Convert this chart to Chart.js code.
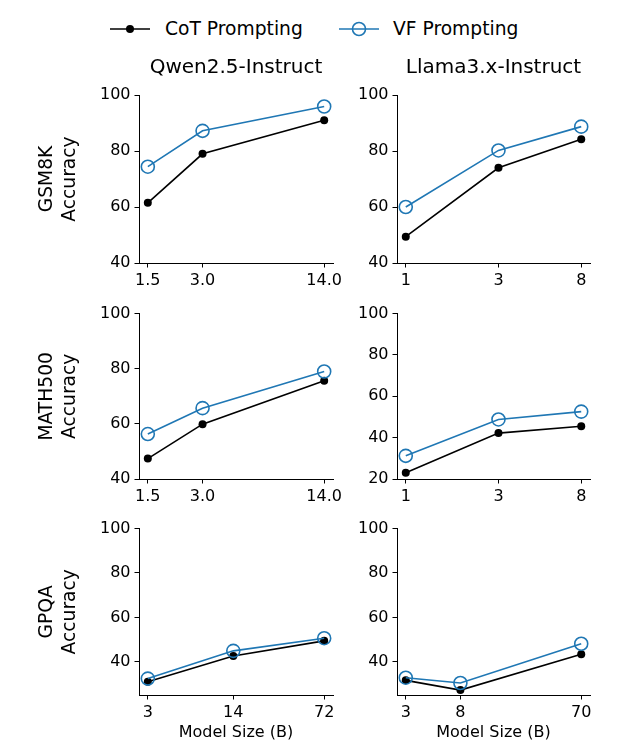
<!DOCTYPE html>
<html>
<head>
<meta charset="utf-8">
<script src="https://cdn.jsdelivr.net/npm/chart.js@4.4.1/dist/chart.umd.min.js"></script>
<style>
  body { margin: 0; background: #fff; }
  #wrap { position: relative; width: 634px; height: 755px; font-family: "DejaVu Sans", sans-serif; }
  canvas { position: absolute; }
  .legend-item { position: absolute; top: 17px; height: 24px; line-height: 24px; font-size: 18.7px; color: #000; white-space: nowrap; }
  .legend-icon { position: absolute; }
</style>
</head>
<body>
<div id="wrap">
  <svg class="legend-icon" style="left:110px; top:19px" width="40" height="20">
    <line x1="0" y1="10" x2="40" y2="10" stroke="#000" stroke-width="1.6"/>
    <circle cx="20" cy="10" r="4" fill="#000"/>
  </svg>
  <div class="legend-item" style="left:165px">CoT Prompting</div>
  <svg class="legend-icon" style="left:339px; top:19px" width="40" height="20">
    <line x1="0" y1="10" x2="40" y2="10" stroke="#1f77b4" stroke-width="1.6"/>
    <circle cx="20" cy="10" r="6.5" fill="none" stroke="#1f77b4" stroke-width="1.6"/>
  </svg>
  <div class="legend-item" style="left:393px">VF Prompting</div>

  <canvas id="c00" width="360" height="255" style="left:0px; top:40px"></canvas>
  <canvas id="c01" width="294" height="255" style="left:340px; top:40px"></canvas>
  <canvas id="c10" width="360" height="210" style="left:0px; top:300px"></canvas>
  <canvas id="c11" width="294" height="210" style="left:340px; top:300px"></canvas>
  <canvas id="c20" width="360" height="240" style="left:0px; top:515px"></canvas>
  <canvas id="c21" width="294" height="240" style="left:340px; top:515px"></canvas>
</div>

<script>
// Model sizes (billions of parameters) per panel
const qwenSizes = [1.5, 3, 14];
const qwenSizesGpqa = [3, 14, 72];
const llamaSizes = [1, 3, 8];
const llamaSizesGpqa = [3, 8, 70];

// Tick labels for the x axes
const qwenTickLabels = ["1.5", "3.0", "14.0"];
const qwenGpqaTickLabels = ["3", "14", "72"];
const llamaTickLabels = ["1", "3", "8"];
const llamaGpqaTickLabels = ["3", "8", "70"];

// Accuracy values
const gsm8kQwenCot = [61.5, 79.0, 91.0];
const gsm8kQwenVf = [74.4, 87.2, 95.9];
const gsm8kLlamaCot = [49.4, 74.0, 84.2];
const gsm8kLlamaVf = [60.0, 80.2, 88.7];

const math500QwenCot = [47.4, 59.9, 75.6];
const math500QwenVf = [56.3, 65.7, 79.0];
const math500LlamaCot = [23.0, 42.2, 45.5];
const math500LlamaVf = [31.2, 48.8, 52.6];

const gpqaQwenCot = [31.0, 42.6, 49.4];
const gpqaQwenVf = [32.4, 44.9, 50.6];
const gpqaLlamaCot = [31.6, 27.2, 43.4];
const gpqaLlamaVf = [32.8, 30.4, 48.1];

// Y axis limits and ticks
const yLimitsDefault = [40, 100];
const yLimitsMathLlama = [20, 100];
const yLimitsGpqa = [25, 100];
const yTicksDefault = [40, 60, 80, 100];
const yTicksMathLlama = [20, 40, 60, 80, 100];

const columnTitles = ["Qwen2.5-Instruct", "Llama3.x-Instruct"];
const rowTitles = [["GSM8K", "Accuracy"], ["MATH500", "Accuracy"], ["GPQA", "Accuracy"]];
const xAxisTitle = "Model Size (B)";

Chart.defaults.font.family = "'DejaVu Sans', sans-serif";
Chart.defaults.color = "#000";

const BLUE = "#1f77b4";

function points(xs, ys) {
  return xs.map((x, i) => ({ x: x, y: ys[i] }));
}

// matplotlib-like 5% margin in log space
function logLimits(xs) {
  const a = Math.log(Math.min(...xs));
  const b = Math.log(Math.max(...xs));
  const m = (b - a) * 0.05;
  return [Math.exp(a - m), Math.exp(b + m)];
}

function makePanel(id, opts) {
  const isLeft = opts.col === 0;
  const xl = logLimits(opts.xs);
  const rowXHeight = [32, 31, 60][opts.row];
  const config = {
    type: "line",
    data: {
      datasets: [
        {
          label: "VF Prompting",
          data: points(opts.xs, opts.vf),
          borderColor: BLUE,
          borderWidth: 1.6,
          pointRadius: 6.5,
          pointBorderWidth: 1.6,
          pointBorderColor: BLUE,
          pointBackgroundColor: "rgba(0,0,0,0)",
          tension: 0,
          clip: false,
        },
        {
          label: "CoT Prompting",
          data: points(opts.xs, opts.cot),
          borderColor: "#000",
          borderWidth: 1.6,
          pointRadius: 4,
          pointBorderWidth: 0,
          pointBackgroundColor: "#000",
          tension: 0,
          clip: false,
        },
      ],
    },
    options: {
      responsive: false,
      animation: false,
      events: [],
      layout: {
        padding: {
          left: 0,
          right: isLeft ? 27 : 44,
          top: opts.row === 0 ? 0 : 10,
          bottom: 0,
        },
      },
      plugins: {
        legend: { display: false },
        tooltip: { enabled: false },
        title: {
          display: opts.row === 0,
          text: columnTitles[opts.col],
          fullSize: false,
          font: { size: 20, weight: "normal", lineHeight: 1.2 },
          padding: { top: 15.5, bottom: 15.5 },
          color: "#000",
        },
      },
      scales: {
        x: {
          type: "logarithmic",
          min: xl[0],
          max: xl[1],
          afterBuildTicks: (scale) => {
            scale.ticks = opts.xs.map((v) => ({ value: v }));
          },
          afterFit: (scale) => {
            scale.height = rowXHeight;
          },
          ticks: {
            autoSkip: false,
            maxRotation: 0,
            padding: 4,
            font: { size: 16 },
            callback: (value, index) => opts.xLabels[index],
          },
          grid: {
            drawOnChartArea: false,
            drawTicks: true,
            tickLength: 4.5,
            color: "#000",
            lineWidth: 1,
          },
          border: { display: true, color: "#000", width: 1 },
          title: {
            display: opts.row === 2,
            text: xAxisTitle,
            font: { size: 16, lineHeight: 1.2 },
            padding: { top: 0, bottom: 12.4 },
          },
        },
        y: {
          type: "linear",
          min: opts.yLimits[0],
          max: opts.yLimits[1],
          afterBuildTicks: (scale) => {
            scale.ticks = opts.yTicks.map((v) => ({ value: v }));
          },
          afterFit: (scale) => {
            scale.width = isLeft ? 139 : 57;
          },
          ticks: {
            padding: 4,
            font: { size: 16 },
          },
          grid: {
            drawOnChartArea: false,
            drawTicks: true,
            tickLength: 4.5,
            color: "#000",
            lineWidth: 1,
          },
          border: { display: true, color: "#000", width: 1 },
          title: {
            display: isLeft,
            text: rowTitles[opts.row],
            font: { size: 18.7, lineHeight: 1.2 },
            padding: { top: 36.3, bottom: 0 },
          },
        },
      },
    },
  };
  return new Chart(document.getElementById(id), config);
}

makePanel("c00", { row: 0, col: 0, xs: qwenSizes, xLabels: qwenTickLabels, cot: gsm8kQwenCot, vf: gsm8kQwenVf, yLimits: yLimitsDefault, yTicks: yTicksDefault });
makePanel("c01", { row: 0, col: 1, xs: llamaSizes, xLabels: llamaTickLabels, cot: gsm8kLlamaCot, vf: gsm8kLlamaVf, yLimits: yLimitsDefault, yTicks: yTicksDefault });
makePanel("c10", { row: 1, col: 0, xs: qwenSizes, xLabels: qwenTickLabels, cot: math500QwenCot, vf: math500QwenVf, yLimits: yLimitsDefault, yTicks: yTicksDefault });
makePanel("c11", { row: 1, col: 1, xs: llamaSizes, xLabels: llamaTickLabels, cot: math500LlamaCot, vf: math500LlamaVf, yLimits: yLimitsMathLlama, yTicks: yTicksMathLlama });
makePanel("c20", { row: 2, col: 0, xs: qwenSizesGpqa, xLabels: qwenGpqaTickLabels, cot: gpqaQwenCot, vf: gpqaQwenVf, yLimits: yLimitsGpqa, yTicks: yTicksDefault });
makePanel("c21", { row: 2, col: 1, xs: llamaSizesGpqa, xLabels: llamaGpqaTickLabels, cot: gpqaLlamaCot, vf: gpqaLlamaVf, yLimits: yLimitsGpqa, yTicks: yTicksDefault });
</script>
</body>
</html>
